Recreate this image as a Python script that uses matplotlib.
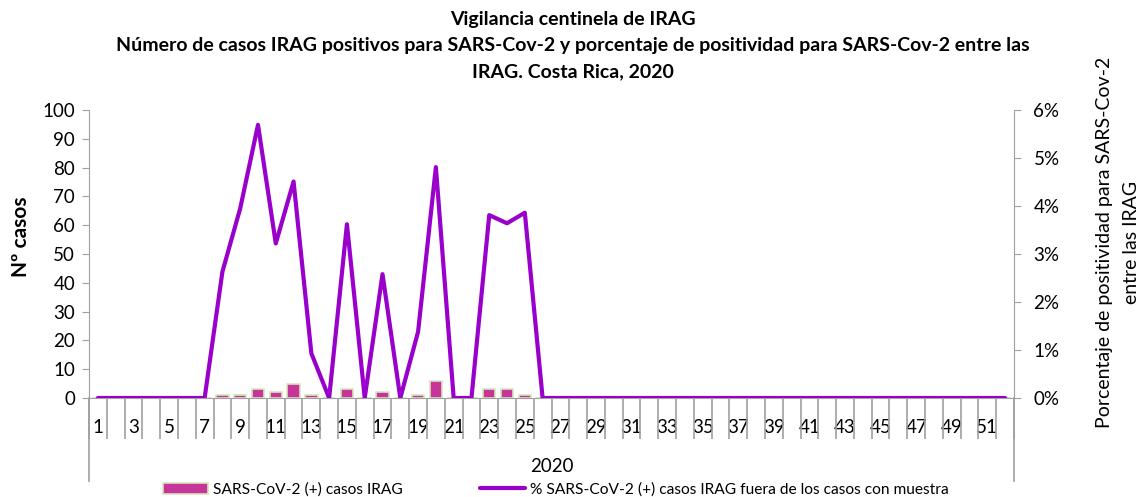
import matplotlib.pyplot as plt
from matplotlib.lines import Line2D
import numpy as np

plt.rcParams['font.family'] = ['Lato', 'DejaVu Sans']

# semanas epidemiologicas 2020
weeks = list(range(1, 53))

# casos IRAG positivos SARS-CoV-2
casos = [0, 0, 0, 0, 0, 0, 0, 1, 1, 3, 2, 5, 1, 0, 3, 0, 2, 0, 1, 6,
         0, 0, 3, 3, 1, 0] + [0] * 26

# % positividad
pct = [0, 0, 0, 0, 0, 0, 0, 2.63, 3.95, 5.69, 3.22, 4.51, 0.93, 0, 3.62, 0,
       2.58, 0, 1.38, 4.81, 0, 0, 3.81, 3.64, 3.86, 0] + [0] * 26

bar_color = '#C8359A'
bar_edge = '#D7E4BD'
line_color = '#9900CC'
axis_gray = '#A0A0A0'

W, H = 1146, 497
fig = plt.figure(figsize=(W / 100, H / 100), dpi=100)
ax = fig.add_axes([89 / W, 1 - 398 / H, 925 / W, 288 / H])
ax2 = ax.twinx()

x = np.arange(len(weeks))
ax.bar(x, casos, width=0.7, color=bar_color, edgecolor=bar_edge, linewidth=1.2,
       label='SARS-CoV-2 (+) casos IRAG', zorder=2)
ax2.plot(x, pct, color=line_color, linewidth=3.0, solid_capstyle='round',
         solid_joinstyle='round', label='% SARS-CoV-2 (+) casos IRAG fuera de los casos con muestra')

ax.set_xlim(-0.5, len(weeks) - 0.5)
ax.set_ylim(0, 100)
ax.set_yticks(range(0, 101, 10))
ax2.set_ylim(0, 6)
ax2.set_yticks(range(0, 7))
ax2.set_yticklabels([f'{v}%' for v in range(0, 7)])

# x ticks: labels on odd weeks, separators between categories
ax.set_xticks(x[::2])
ax.set_xticklabels([str(w) for w in weeks[::2]])
ax.set_xticks(np.arange(-0.5, len(weeks) - 0.5 + 1e-9, 1), minor=True)
ax.tick_params(axis='x', which='major', length=0, pad=15, labelsize=13.5)
ax.tick_params(axis='x', which='minor', length=29.5, width=1.2, color=axis_gray, direction='out')

for a in (ax, ax2):
    a.spines['top'].set_visible(False)
    a.spines['left'].set_color(axis_gray)
    a.spines['right'].set_color(axis_gray)
    a.spines['bottom'].set_color(axis_gray)
ax.spines['right'].set_visible(False)
ax2.spines['left'].set_visible(False)
ax2.spines['bottom'].set_visible(False)

ax.tick_params(axis='y', length=5, color=axis_gray, labelsize=13.5, pad=5)
ax2.tick_params(axis='y', length=5, color=axis_gray, labelsize=13.5, pad=9)

# outer frame lines of the category axis
for xa in (0, 1):
    ax.add_line(Line2D([xa, xa], [0, -83 / 288], transform=ax.transAxes,
                       color=axis_gray, linewidth=1.2, clip_on=False))
ax.text(0.5, -68 / 288, '2020', transform=ax.transAxes, ha='center', va='center', fontsize=13.5)

# axis titles
fig.text(21 / W, 1 - 237 / H, 'Nº casos', rotation=90, ha='center', va='center',
         fontsize=15, fontweight='bold')
fig.text(1118 / W, 1 - 242 / H, 'Porcentaje de positividad para SARS-Cov-2\nentre las IRAG',
         rotation=90, ha='center', va='center', fontsize=14, linespacing=1.65,
         multialignment='center')

fig.suptitle('Vigilancia centinela de IRAG\nNúmero de casos IRAG positivos para SARS-Cov-2 y '
             'porcentaje de positividad para SARS-Cov-2 entre las\nIRAG. Costa Rica, 2020',
             x=0.5, y=1 - 11 / H, fontsize=14, fontweight='bold', linespacing=1.66)

h1, l1 = ax.get_legend_handles_labels()
h2, l2 = ax2.get_legend_handles_labels()
fig.legend(h1 + h2, l1 + l2, loc='center', bbox_to_anchor=(0.485, 0.015), ncol=2,
           frameon=False, fontsize=11.2, columnspacing=5.0, handlelength=2.9,
           handletextpad=0.3, borderaxespad=0)

ax.set_zorder(ax2.get_zorder() - 1)
ax.patch.set_visible(False)

fig.savefig('out.png', dpi=100)
